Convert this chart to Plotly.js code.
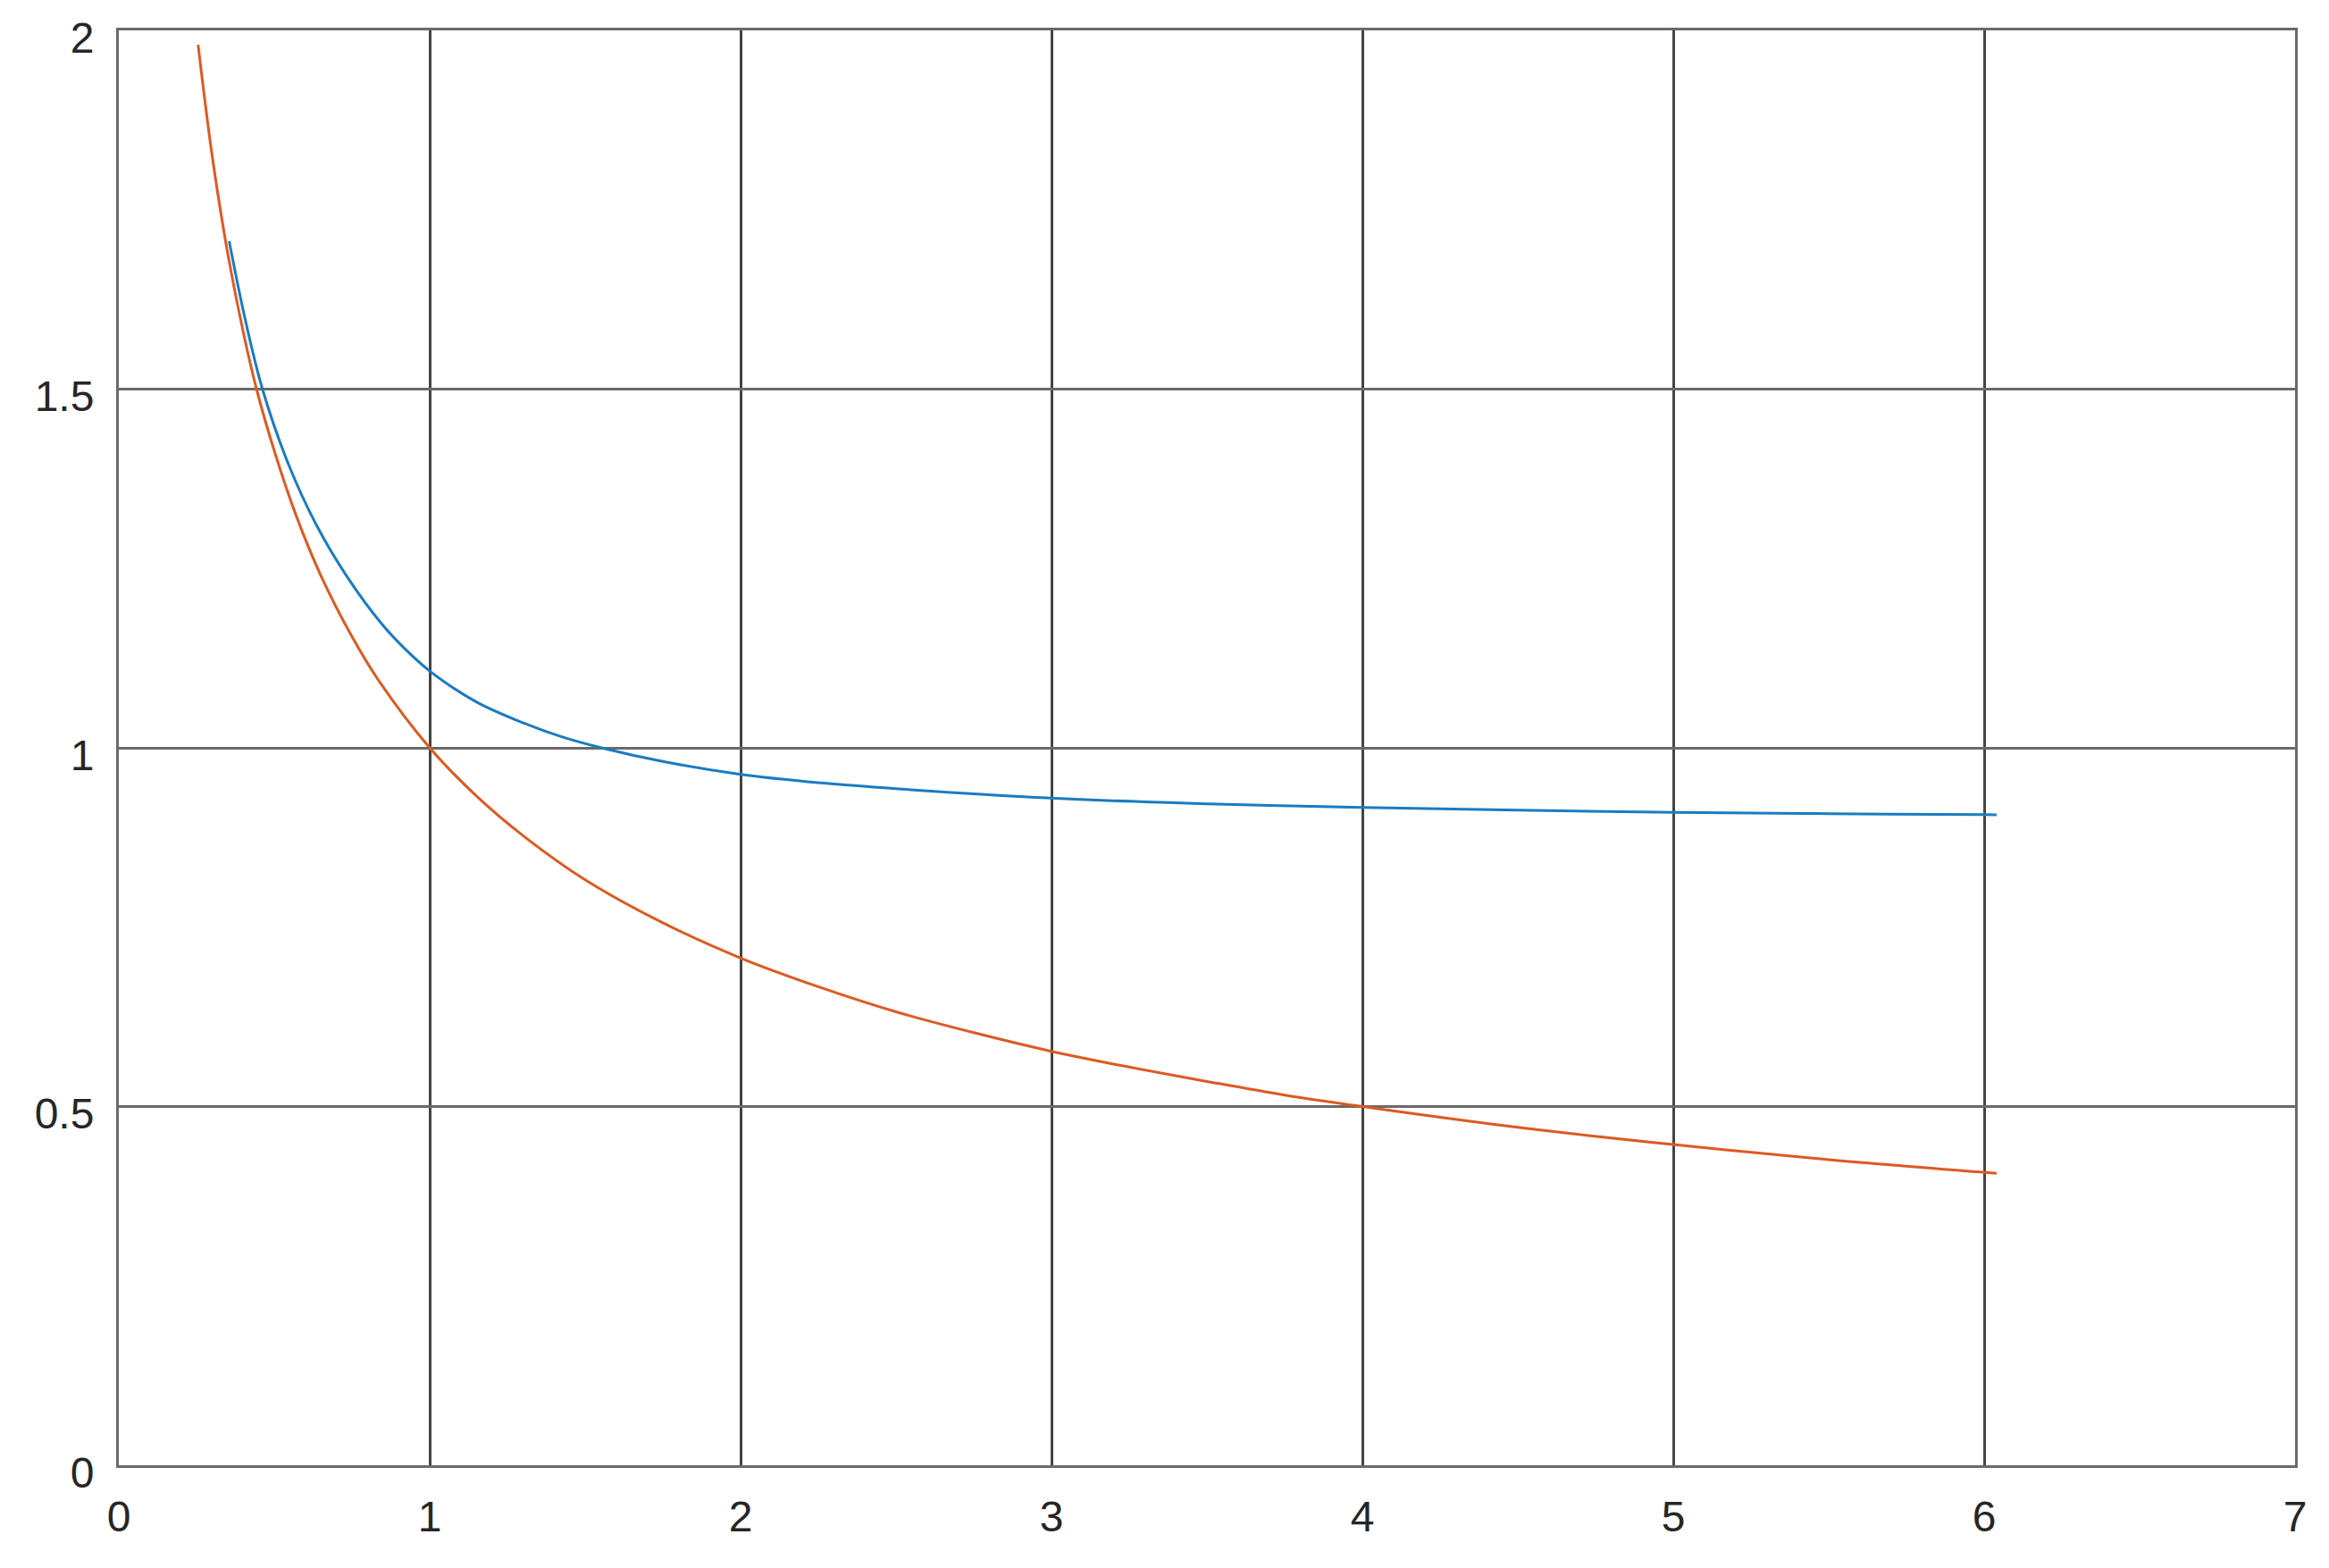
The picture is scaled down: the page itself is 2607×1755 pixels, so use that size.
<!DOCTYPE html>
<html>
<head>
<meta charset="utf-8">
<script src="https://cdn.plot.ly/plotly-3.0.1.min.js"></script>
<style>
  html, body { margin: 0; padding: 0; background: #fff; }
  #plot { width: 2607px; height: 1755px; }
</style>
</head>
<body>
<div id="plot"></div>
<script>
// values
const blueX = [0.355, 0.405, 0.462, 0.545, 0.635, 0.735, 0.845, 0.92, 1.0, 1.15, 1.305, 1.42, 1.552, 1.75, 2.0, 2.261, 2.5, 3.0, 3.5, 4.0, 4.5, 5.0, 5.5, 6.0, 6.04];
const blueY = [1.706, 1.6, 1.5, 1.396, 1.311, 1.238, 1.173, 1.138, 1.107, 1.064, 1.034, 1.016, 1.0, 0.981, 0.963, 0.951, 0.943, 0.930, 0.922, 0.917, 0.913, 0.910, 0.9082, 0.9068, 0.9067];

const orangeX = [0.255, 0.3, 0.35, 0.4, 0.443, 0.5, 0.571, 0.65, 0.75, 0.834, 1.0, 1.15, 1.305, 1.5, 1.75, 2.0, 2.25, 2.5, 2.75, 3.0, 3.25, 3.5, 3.75, 4.0, 4.5, 5.0, 5.5, 6.04];
const orangeY = [1.98, 1.826, 1.69, 1.58, 1.5, 1.414, 1.323, 1.24, 1.155, 1.095, 1.0, 0.933, 0.876, 0.816, 0.756, 0.707, 0.667, 0.632, 0.603, 0.577, 0.555, 0.535, 0.516, 0.5, 0.471, 0.447, 0.426, 0.407];

const xTicks = [0, 1, 2, 3, 4, 5, 6, 7];
const yTicks = [0, 0.5, 1, 1.5, 2];
const yTickText = ['0', '0.5', '1', '1.5', '2'];

const traces = [
    {
        x: orangeX,
        y: orangeY,
        type: 'scatter',
        mode: 'lines',
        line: { color: '#DC5A22', width: 3, shape: 'spline', smoothing: 1 },
    },
    {
        x: blueX,
        y: blueY,
        type: 'scatter',
        mode: 'lines',
        line: { color: '#1A7BC4', width: 3, shape: 'spline', smoothing: 1 },
    },
];

const tickFont = { family: '"Liberation Sans", Arial, sans-serif', size: 48, color: '#262626' };

const layout = {
    width: 2607,
    height: 1755,
    margin: { l: 133, r: 38, t: 34, b: 115 },
    paper_bgcolor: '#fff',
    plot_bgcolor: '#fff',
    showlegend: false,
    xaxis: {
        range: [0, 7],
        tickvals: xTicks,
        ticks: '',
        ticklabelstandoff: 13,
        tickfont: tickFont,
        showgrid: true,
        gridcolor: '#444',
        gridwidth: 3,
        zeroline: false,
        showline: true,
        linecolor: '#6a6a6a',
        linewidth: 3,
        mirror: true,
    },
    yaxis: {
        range: [0, 2],
        tickvals: yTicks,
        ticktext: yTickText,
        ticks: '',
        ticklabelstandoff: 15,
        ticklabelshift: 8,
        tickfont: tickFont,
        showgrid: true,
        gridcolor: '#6a6a6a',
        gridwidth: 3,
        zeroline: false,
        showline: true,
        linecolor: '#6a6a6a',
        linewidth: 3,
        mirror: true,
    },
};

Plotly.newPlot('plot', traces, layout, { staticPlot: true });
</script>
</body>
</html>
